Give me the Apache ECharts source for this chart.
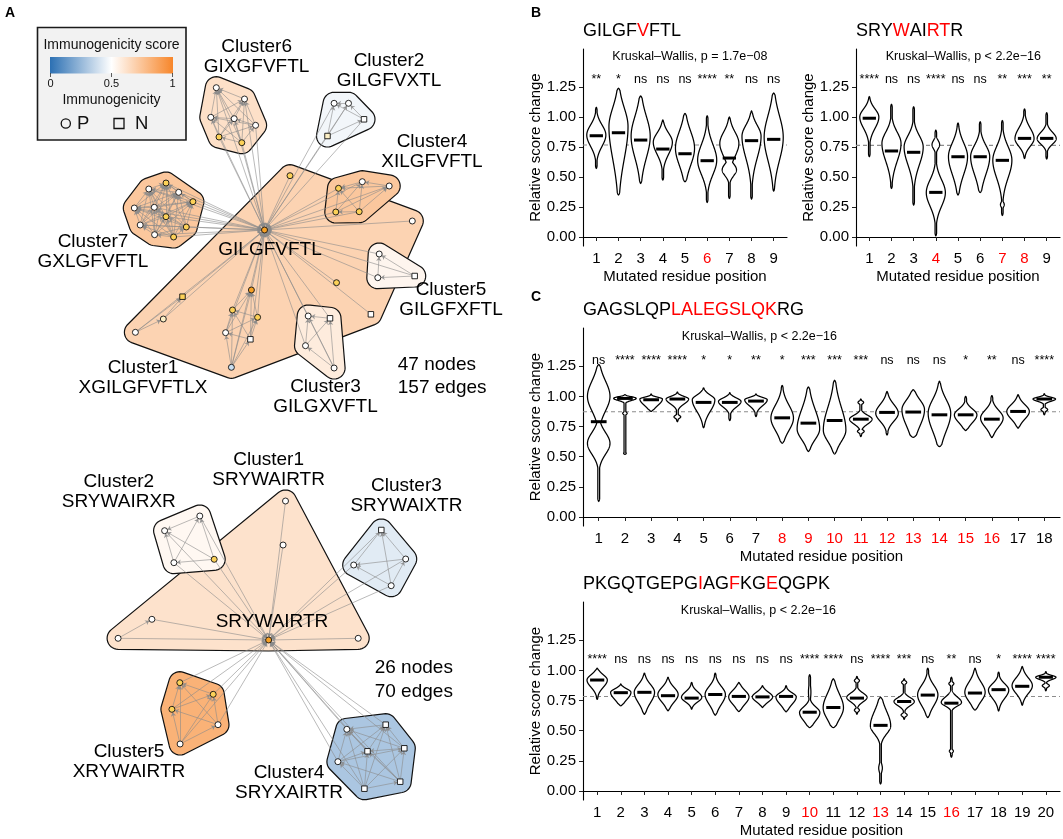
<!DOCTYPE html>
<html><head><meta charset="utf-8">
<script src="https://cdn.jsdelivr.net/npm/echarts@6/dist/echarts.min.js"></script>
<style>html,body{margin:0;padding:0;background:#fff}#c{width:1063px;height:839px}</style>
</head><body><div id="c"></div>
<script>
const FONT = '"Liberation Sans", Arial, Helvetica, sans-serif';
const BLUE = [44,112,179], WHITE = [255,255,255], ORANGE = [247,134,42];

// ===================== Panel A : networks =====================
// node: [x, y, shape(P/N), fill key, cluster]
const topNodes = [
 [264.5,230,'P','o',1],
 [290,175.7,'P','y',1],[412.3,221,'P','w',1],[182.5,296.7,'N','y',1],[163.3,319,'P','l',1],[135.4,332.3,'P','w',1],
 [251.4,290,'P','o',1],[232.5,310,'P','y',1],[257.6,317.3,'P','y',1],[225.6,332.7,'P','w',1],[250.4,339.3,'N','w',1],
 [231.4,367.3,'P','b',1],[336.5,282.7,'P','y',1],[370.9,314.3,'N','w',1],
 [216.3,87.7,'P','w',6],[244.5,99,'P','w',6],[210.8,117.3,'P','w',6],[234.2,118.7,'P','w',6],[255.6,125.3,'P','w',6],[219,137,'P','y',6],[241.8,142.7,'P','y',6],
 [334.1,103.3,'P','w',2],[348.5,103.3,'P','w',2],[364,119.3,'N','w',2],[327.5,136,'N','l',2],
 [338.5,188.3,'P','y',4],[362.3,181.7,'P','w',4],[389.2,186,'P','w',4],[335.8,212,'P','y',4],[359.2,211.7,'P','y',4],
 [166,183,'P','y',7],[148.8,189,'P','w',7],[178.7,192.3,'P','w',7],[134.3,208,'P','w',7],[192.9,201.7,'P','y',7],[166,216.7,'P','y',7],
 [154.3,207.3,'P','w',7],[140.2,225,'P','w',7],[186.3,227,'P','y',7],[154.6,234.7,'P','w',7],[173.6,237,'P','y',7],
 [379.2,254,'P','w',5],[377.8,277.7,'P','w',5],[414.7,276,'N','w',5],
 [308.2,316,'P','w',3],[330,318.3,'N','w',3],[305.5,345.7,'P','w',3],[334.1,368,'P','w',3]
];
const topCliques = [[6,7,8,9,10,11],[3,4,5],[14,15,16,17,18,19,20],[21,22,23,24],[25,26,27,28,29],
 [30,31,32,33,34,35,36,37,38,39,40],[41,42,43],[44,45,46,47]];
const topHullScore = {1:0.68, 2:0.47, 3:0.58, 4:0.73, 5:0.54, 6:0.63, 7:0.73};
const topHullOrder = [1,6,2,4,7,5,3];
const topLabels = [
 ['Cluster6\nGIXGFVFTL',256.6,57],['Cluster2\nGILGFVXTL',389,71],['Cluster4\nXILGFVFTL',432,151.5],
 ['Cluster7\nGXLGFVFTL',93,252],['GILGFVFTL',270,250],['Cluster5\nGILGFXFTL',451,300],
 ['Cluster1\nXGILGFVFTLX',143,378],['Cluster3\nGILGXVFTL',325.5,397]
];
const topStats = ['47 nodes\n157 edges',397.8,376.5];

const botNodes = [
 [268.6,640,'P','o',1],
 [285.5,501,'P','w',1],[283.1,545,'P','w',1],[151.9,619.3,'P','w',1],[118.1,638.3,'P','w',1],[358.2,638.3,'P','w',1],
 [164.6,530.7,'P','w',2],[199.8,516,'P','w',2],[173.9,562.7,'P','w',2],[214.2,559.3,'P','y',2],
 [381.3,530,'N','w',3],[353.7,565,'P','w',3],[405.7,559,'P','w',3],[391.2,585.7,'P','w',3],
 [179.8,682.7,'P','y',5],[213.2,694.3,'P','y',5],[171.9,709.3,'P','y',5],[218,724.7,'P','w',5],[180.1,744,'P','w',5],
 [346.8,729.3,'P','w',4],[385.7,724.7,'N','w',4],[367.5,751.3,'N','w',4],[404.3,748.3,'N','w',4],[337.9,761.7,'P','w',4],
 [400.2,781.7,'N','w',4],[364.4,788.7,'N','w',4]
];
const botCliques = [[3,4],[6,7,8,9],[10,11,12,13],[14,15,16,17,18],[19,20,21,22,23,24,25]];
const botHullScore = {1:0.62, 2:0.53, 3:0.43, 4:0.30, 5:0.82};
const botHullOrder = [1,2,3,5,4];
const botLabels = [
 ['Cluster1\nSRYWAIRTR',268.6,469.5],['Cluster2\nSRYWAIRXR',118.8,491.5],['Cluster3\nSRYWAIXTR',406.4,495.5],
 ['SRYWAIRTR',272,622],['Cluster5\nXRYWAIRTR',129,762],['Cluster4\nSRYXAIRTR',289,782.5]
];
const botStats = ['26 nodes\n70 edges',374.7,680];

const nodeFill = {w:'#ffffff', l:'#fdf0c6', y:'#fcd158', o:'#f6a025', b:'#c9def0'};

// ===================== Panels B / C : violins =====================
const blTitle = [['GILGF',0],['V',1],['FTL',0]];
const blKW = 'Kruskal\u2013Wallis, p = 1.7e\u221208';
const blSig = ['**','*','ns','ns','ns','****','**','ns','ns'];
const blRed = [6];
const blRef = 0.767;
const blMedian = [0.844,0.869,0.808,0.733,0.694,0.636,0.658,0.803,0.814];
const blMin = [0.572,0.35,0.447,0.475,0.461,0.289,0.322,0.317,0.383];
const blMax = [1.08,1.24,1.175,0.975,1.03,1.01,1.0,1.05,1.2];
const blLo = [0.71,0.517,0.572,0.64,0.53,0.461,0.62,0.572,0.544];
const blMode = [0.85,0.92,0.84,0.79,0.74,0.64,0.78,0.84,0.83];
const blHi = [0.975,1.155,1.086,0.905,0.947,0.836,0.92,0.975,1.1];
const blBumps = [[7,0.56,0.05,0.75]];

const brTitle = [['SRY',0],['W',1],['AI',0],['RT',1],['R',0]];
const brKW = 'Kruskal\u2013Wallis, p < 2.2e\u221216';
const brSig = ['****','ns','ns','****','ns','ns','**','***','**'];
const brRed = [4,7,8];
const brRef = 0.764;
const brMedian = [0.99,0.717,0.706,0.372,0.669,0.669,0.639,0.822,0.822];
const brMin = [0.67,0.405,0.267,0.01,0.35,0.37,0.18,0.655,0.65];
const brMax = [1.17,1.105,1.085,0.89,0.95,0.96,0.97,1.067,1.036];
const brLo = [0.86,0.56,0.53,0.2,0.45,0.45,0.42,0.725,0.75];
const brMode = [1.0,0.78,0.75,0.37,0.67,0.67,0.64,0.82,0.82];
const brHi = [1.1,0.92,0.89,0.53,0.84,0.81,0.81,0.95,0.9];
const brBumps = [[4,0.77,0.035,0.4],[7,0.27,0.02,0.2]];

const ctTitle = [['GAGSLQP',0],['LALEGSLQK',1],['RG',0]];
const ctKW = 'Kruskal\u2013Wallis, p < 2.2e\u221216';
const ctSig = ['ns','****','****','****','*','*','**','*','***','***','***','ns','ns','ns','*','**','ns','****'];
const ctRed = [8,9,10,11,12,13,14,15,16];
const ctRef = 0.872;
const ctMedian = [0.79,0.983,0.972,0.978,0.95,0.95,0.961,0.822,0.778,0.8,0.811,0.867,0.87,0.847,0.847,0.811,0.875,0.978];
const ctMin = [0.13,0.52,0.875,0.79,0.74,0.8,0.833,0.611,0.542,0.522,0.667,0.68,0.66,0.583,0.717,0.658,0.736,0.847];
const ctMax = [1.264,1.014,1.02,1.036,1.07,1.03,1.02,1.09,1.078,1.133,0.978,1.04,1.055,1.125,1.0,1.006,1.014,1.022];
const ctLo = [0.82,0.958,0.9,0.917,0.83,0.89,0.9,0.667,0.6,0.58,0.75,0.76,0.69,0.64,0.75,0.71,0.78,0.95];
const ctMode = [1.0,0.983,0.978,0.978,0.972,0.958,0.972,0.82,0.73,0.72,0.811,0.86,0.89,0.86,0.847,0.82,0.875,0.978];
const ctHi = [1.19,1.005,1.0,1.01,1.03,1.0,1.0,0.98,0.97,1.0,0.86,0.97,1.01,1.03,0.92,0.917,0.96,1.0];
const ctBumps = [[1,0.61,0.09,1.0],[2,0.86,0.01,0.2],[2,0.525,0.008,0.2],[4,0.83,0.012,0.3],
 [11,0.95,0.012,0.25],[11,0.71,0.012,0.3],[18,0.89,0.012,0.3]];

const cbTitle = [['PKGQTGEPG',0],['I',1],['AG',0],['F',1],['KG',0],['E',1],['QGPK',0]];
const cbKW = 'Kruskal\u2013Wallis, p < 2.2e\u221216';
const cbSig = ['****','ns','ns','ns','ns','ns','ns','ns','ns','****','****','ns','****','***','ns','**','ns','*','****','****'];
const cbRed = [10,13,16];
const cbRef = 0.783;
const cbMedian = [0.92,0.815,0.818,0.79,0.77,0.80,0.784,0.78,0.784,0.653,0.692,0.77,0.544,0.742,0.795,0.728,0.812,0.84,0.868,0.943];
const cbMin = [0.76,0.706,0.636,0.664,0.678,0.628,0.658,0.692,0.656,0.525,0.525,0.636,0.058,0.594,0.608,0.28,0.67,0.664,0.711,0.831];
const cbMax = [1.018,0.887,0.977,0.943,0.9,0.977,0.9,0.873,0.873,0.963,0.93,0.95,0.776,0.93,1.018,0.943,1.018,0.985,1.032,0.99];
const cbLo = [0.83,0.73,0.69,0.706,0.72,0.678,0.69,0.72,0.69,0.55,0.55,0.72,0.44,0.69,0.664,0.69,0.706,0.734,0.776,0.915];
const cbMode = [0.92,0.818,0.818,0.80,0.776,0.80,0.78,0.78,0.78,0.65,0.69,0.776,0.54,0.742,0.798,0.734,0.818,0.837,0.873,0.943];
const cbHi = [0.985,0.86,0.915,0.887,0.845,0.9,0.86,0.837,0.83,0.72,0.86,0.83,0.72,0.79,0.915,0.8,0.943,0.915,0.97,0.965];
const cbBumps = [[10,0.82,0.06,0.12],[12,0.915,0.012,0.25],[12,0.67,0.012,0.25],[13,0.19,0.035,0.18],
 [14,0.9,0.012,0.25],[14,0.63,0.012,0.3],[16,0.89,0.012,0.25],[16,0.33,0.012,0.2],[20,0.873,0.012,0.35]];

const yTicks = [0,0.25,0.5,0.75,1,1.25];

// ------------- layout (style) -------------
const panels = [
 {title:blTitle, kw:blKW, sig:blSig, red:blRed, ref:blRef, med:blMedian, min:blMin, max:blMax, lo:blLo, mode:blMode, hi:blHi, bumps:blBumps,
  grid:{left:583, top:49, width:204, height:197}, titleTop:22, kwX:5.22, sigY:1.31},
 {title:brTitle, kw:brKW, sig:brSig, red:brRed, ref:brRef, med:brMedian, min:brMin, max:brMax, lo:brLo, mode:brMode, hi:brHi, bumps:brBumps,
  grid:{left:856, top:49, width:204, height:197}, titleTop:22, kwX:5.24, sigY:1.31},
 {title:ctTitle, kw:ctKW, sig:ctSig, red:ctRed, ref:ctRef, med:ctMedian, min:ctMin, max:ctMax, lo:ctLo, mode:ctMode, hi:ctHi, bumps:ctBumps,
  grid:{left:583, top:328, width:477, height:198}, titleTop:301, kwX:7.13, sigY:1.30},
 {title:cbTitle, kw:cbKW, sig:cbSig, red:cbRed, ref:cbRef, med:cbMedian, min:cbMin, max:cbMax, lo:cbLo, mode:cbMode, hi:cbHi, bumps:cbBumps,
  grid:{left:583, top:602, width:477, height:198}, titleTop:575, kwX:7.83, sigY:1.09}
];

function mix(a,b,t){return a.map((v,i)=>Math.round(v+(b[i]-v)*t));}
function scoreColor(s){
  const c = s<0.5 ? mix(WHITE,BLUE,(0.5-s)/0.5) : mix(WHITE,ORANGE,(s-0.5)/0.5);
  return 'rgb('+c.join(',')+')';
}

function convexHull(pts){
  pts = pts.slice().sort((a,b)=>a[0]-b[0]||a[1]-b[1]);
  const cross=(o,a,b)=>(a[0]-o[0])*(b[1]-o[1])-(a[1]-o[1])*(b[0]-o[0]);
  const lower=[],upper=[];
  for(const p of pts){while(lower.length>=2&&cross(lower[lower.length-2],lower[lower.length-1],p)<=0)lower.pop();lower.push(p);}
  for(let i=pts.length-1;i>=0;i--){const p=pts[i];while(upper.length>=2&&cross(upper[upper.length-2],upper[upper.length-1],p)<=0)upper.pop();upper.push(p);}
  upper.pop();lower.pop();
  return lower.concat(upper);
}

function hullSeries(nodes, scores, order){
  return {
    type:'custom', xAxisIndex:0, yAxisIndex:0, z:1, silent:true, clip:false,
    data: order.map(c=>[c]),
    renderItem:(params, api)=>{
      const c = order[params.dataIndex];
      const pad = 11;
      const pts = [];
      nodes.forEach(n=>{ if(n[4]===c){ const p=api.coord([n[0],n[1]]);
        for(let k=0;k<36;k++){const a=k/36*Math.PI*2; pts.push([p[0]+pad*Math.cos(a), p[1]+pad*Math.sin(a)]);} } });
      const h = convexHull(pts);
      return {type:'polygon', shape:{points:h}, style:{fill:scoreColor(scores[c]), stroke:'#111', lineWidth:1.2}};
    }
  };
}

function graphSeries(nodes, cliques){
  const data = nodes.map(n=>({value:[n[0],n[1]], symbol:n[2]==='P'?'circle':'rect', symbolSize:n[2]==='P'?6:5.5,
    itemStyle:{color:nodeFill[n[3]], borderColor:'#111', borderWidth:0.9}}));
  const links = [];
  for(let i=1;i<nodes.length;i++) links.push({source:i, target:0});
  cliques.forEach(cl=>{ for(let a=0;a<cl.length;a++) for(let b=a+1;b<cl.length;b++) links.push({source:cl[b], target:cl[a]}); });
  return {type:'graph', layout:'none', coordinateSystem:'cartesian2d', xAxisIndex:0, yAxisIndex:0, z:3, silent:true,
    data, links, edgeSymbol:['none','arrow'], edgeSymbolSize:[0,4],
    lineStyle:{color:'#8a8a8a', width:0.7, opacity:0.85}, label:{show:false}};
}

function labelSeries(labels, stats){
  const d = labels.map(l=>({value:[l[1],l[2]], name:l[0]}));
  d.push({value:[stats[1],stats[2]], name:stats[0], label:{align:'left', lineHeight:23.5}});
  return {type:'scatter', xAxisIndex:0, yAxisIndex:0, z:6, silent:true, symbolSize:0, data:d,
    itemStyle:{opacity:1},
    label:{show:true, position:'inside', formatter:'{b}', color:'#000', opacity:1, fontSize:19, fontFamily:FONT, lineHeight:20, align:'center', verticalAlign:'middle'}};
}

function violinSeries(p, gi){
  return {type:'custom', xAxisIndex:gi, yAxisIndex:gi, z:4, silent:true, clip:false,
    data: p.med.map((m,i)=>[i+1, p.min[i], p.max[i]]),
    encode:{x:0, y:[1,2]},
    renderItem:(params, api)=>{
      const i = params.dataIndex, pos = i+1;
      const mn=p.min[i], mx=p.max[i], md=p.med[i], mo=p.mode[i], lo=p.lo[i], hi=p.hi[i];
      const sUp=Math.max((hi-mo)/1.5,0.005), sDn=Math.max((mo-lo)/1.5,0.005);
      const bumps=p.bumps.filter(b=>b[0]===pos);
      const W=0.43, N=320, right=[], left=[];
      for(let k=0;k<=N;k++){
        const y = mx-(mx-mn)*k/N;
        const s = y>mo?sUp:sDn;
        let w = Math.exp(-0.5*Math.pow((y-mo)/s,2));
        bumps.forEach(b=>{ w=Math.max(w, b[3]*Math.exp(-0.5*Math.pow((y-b[1])/b[2],2))); });
        w = Math.max(w,0.08);
        const t = Math.min(1,(y-mn)/0.02,(mx-y)/0.02);
        w *= Math.sqrt(Math.max(t,0));
        right.push(api.coord([pos+W*w,y]));
        left.push(api.coord([pos-W*w,y]));
      }
      const poly = right.concat(left.reverse());
      const a = api.coord([pos-0.3,md]), b = api.coord([pos+0.3,md]);
      const sp = api.coord([pos,p.sigY]);
      const children = [
        {type:'polygon', shape:{points:poly}, style:{fill:'#fff', stroke:'#000', lineWidth:1.25}},
        {type:'line', shape:{x1:a[0],y1:a[1],x2:b[0],y2:b[1]}, style:{stroke:'#000', lineWidth:3}},
        {type:'text', style:{text:p.sig[i], x:sp[0], y:sp[1], align:'center', verticalAlign:'middle', fontSize:12.5, fontFamily:FONT, fill:'#000'}}
      ];
      if(i===0){
        const kp = api.coord([p.kwX,1.5]);
        children.push({type:'text', style:{text:p.kw, x:kp[0], y:kp[1], align:'center', verticalAlign:'middle', fontSize:12.5, fontFamily:FONT, fill:'#000'}});
      }
      return {type:'group', children};
    }
  };
}

const grids=[{left:0, top:0, width:540, height:839}];
const xAxes=[{type:'value', gridIndex:0, min:0, max:540, show:false}];
const yAxes=[{type:'value', gridIndex:0, min:0, max:839, inverse:true, show:false}];
const series=[
  hullSeries(topNodes, topHullScore, topHullOrder),
  hullSeries(botNodes, botHullScore, botHullOrder),
  graphSeries(topNodes, topCliques),
  graphSeries(botNodes, botCliques),
  labelSeries(topLabels, topStats),
  labelSeries(botLabels, botStats)
];
const letterStyle = {fontSize:14, fontWeight:'bold', fontFamily:FONT, color:'#000'};
const titles=[
  {text:'A', left:5, top:6, padding:0, textStyle:letterStyle},
  {text:'B', left:531, top:6, padding:0, textStyle:letterStyle},
  {text:'C', left:531, top:290, padding:0, textStyle:letterStyle}
];
const axisLine={show:true, lineStyle:{color:'#000', width:1.1}};
panels.forEach((p,k)=>{
  const gi=k+1, n=p.med.length;
  grids.push(p.grid);
  const xs=[]; for(let v=1; v<=n; v++) xs.push(v);
  xAxes.push({type:'value', gridIndex:gi, min:0.4, max:n+0.6,
    name:'Mutated residue position', nameLocation:'middle', nameGap:23,
    nameTextStyle:{fontSize:15, fontFamily:FONT, color:'#000'},
    axisLine, splitLine:{show:false},
    axisTick:{show:true, length:4, lineStyle:{color:'#222'}, customValues:xs},
    axisLabel:{show:true, margin:5, customValues:xs, fontSize:15, fontFamily:FONT,
      formatter:v=>(p.red.indexOf(Math.round(v))>=0?'{r|':'{k|')+Math.round(v)+'}',
      rich:{r:{color:'#ff0000', fontSize:15, fontFamily:FONT}, k:{color:'#000', fontSize:15, fontFamily:FONT}}}
  });
  yAxes.push({type:'value', gridIndex:gi, min:-0.075, max:1.567,
    name:'Relative score change', nameLocation:'middle', nameGap:40,
    nameTextStyle:{fontSize:15, fontFamily:FONT, color:'#000'},
    axisLine, splitLine:{show:false},
    axisTick:{show:true, length:4, lineStyle:{color:'#222'}, customValues:yTicks},
    axisLabel:{show:true, margin:7, customValues:yTicks, fontSize:15, fontFamily:FONT, color:'#000', formatter:v=>v.toFixed(2)}
  });
  series.push({type:'line', xAxisIndex:gi, yAxisIndex:gi, z:2, silent:true, symbol:'none',
    data:[[0.4,p.ref],[n+0.6,p.ref]], lineStyle:{color:'#8c8c8c', width:1.1, type:[4,3]}});
  series.push(violinSeries(p, gi));
  titles.push({left:p.grid.left, top:p.titleTop, padding:0,
    text:p.title.map(t=>(t[1]?'{r|':'{k|')+t[0]+'}').join(''),
    textStyle:{fontSize:18, fontWeight:'normal', fontFamily:FONT,
      rich:{r:{color:'#ff0000', fontSize:18, fontWeight:'normal', fontFamily:FONT}, k:{color:'#000', fontSize:18, fontWeight:'normal', fontFamily:FONT}}}});
});

const grad = new echarts.graphic.LinearGradient(0,0,1,0,[
  {offset:0, color:scoreColor(0)},{offset:0.5, color:'#ffffff'},{offset:1, color:scoreColor(1)}]);
const graphic=[
  {type:'rect', shape:{x:37.5,y:27.5,width:148.5,height:112.5}, style:{fill:'#f2f2f2', stroke:'#1a1a1a', lineWidth:1.6}, z:10},
  {type:'text', style:{text:'Immunogenicity score', x:111.5, y:45, align:'center', verticalAlign:'middle', fontSize:14, fontFamily:FONT, fill:'#111'}, z:11},
  {type:'rect', shape:{x:50,y:57,width:123,height:16.5}, style:{fill:grad}, z:11},
  {type:'line', shape:{x1:50.5,y1:73,x2:50.5,y2:77}, style:{stroke:'#333', lineWidth:0.8}, z:11},
  {type:'line', shape:{x1:111.5,y1:73,x2:111.5,y2:77}, style:{stroke:'#333', lineWidth:0.8}, z:11},
  {type:'line', shape:{x1:172.5,y1:73,x2:172.5,y2:77}, style:{stroke:'#333', lineWidth:0.8}, z:11},
  {type:'text', style:{text:'0', x:50.5, y:83.5, align:'center', verticalAlign:'middle', fontSize:11, fontFamily:FONT, fill:'#111'}, z:11},
  {type:'text', style:{text:'0.5', x:111.5, y:83.5, align:'center', verticalAlign:'middle', fontSize:11, fontFamily:FONT, fill:'#111'}, z:11},
  {type:'text', style:{text:'1', x:172.5, y:83.5, align:'center', verticalAlign:'middle', fontSize:11, fontFamily:FONT, fill:'#111'}, z:11},
  {type:'text', style:{text:'Immunogenicity', x:111.5, y:100, align:'center', verticalAlign:'middle', fontSize:14, fontFamily:FONT, fill:'#111'}, z:11},
  {type:'circle', shape:{cx:65.8,cy:123.5,r:4.6}, style:{fill:'none', stroke:'#111', lineWidth:1.3}, z:11},
  {type:'text', style:{text:'P', x:77, y:124, align:'left', verticalAlign:'middle', fontSize:18.5, fontFamily:FONT, fill:'#111'}, z:11},
  {type:'rect', shape:{x:114,y:118.5,width:10,height:10}, style:{fill:'none', stroke:'#111', lineWidth:1.3}, z:11},
  {type:'text', style:{text:'N', x:135, y:124, align:'left', verticalAlign:'middle', fontSize:18.5, fontFamily:FONT, fill:'#111'}, z:11}
];

const chart = echarts.init(document.getElementById('c'), null, {renderer:'canvas'});
chart.setOption({animation:false, backgroundColor:'#ffffff', title:titles, grid:grids, xAxis:xAxes, yAxis:yAxes, series, graphic});
</script>
</body></html>
